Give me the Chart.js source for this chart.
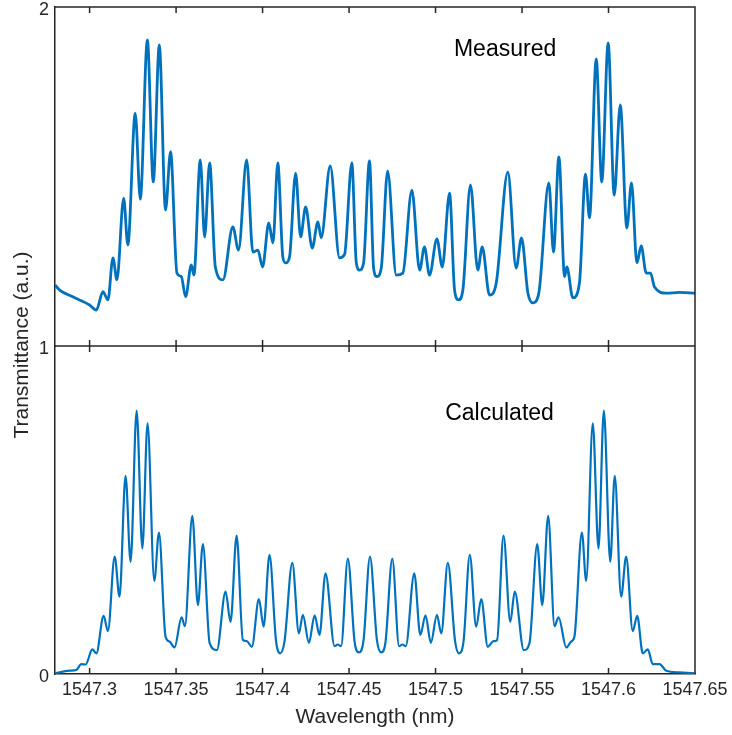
<!DOCTYPE html>
<html>
<head>
<meta charset="utf-8">
<title>Transmittance spectrum</title>
<script src="https://cdn.jsdelivr.net/npm/chart.js@4.4.1/dist/chart.umd.min.js"></script>
<style>
  body { margin: 0; background: #fff; }
  canvas { display: block; }
</style>
</head>
<body>
<canvas id="myChart" width="732" height="735"></canvas>
<script>
"use strict";

/* measured spectrum */
const measuredWl = [1547.2800, 1547.2827, 1547.2903, 1547.3000, 1547.3039, 1547.3077, 1547.3106, 1547.3135, 1547.3158, 1547.3197,
    1547.3221, 1547.3264, 1547.3293, 1547.3334, 1547.3368, 1547.3403, 1547.3439, 1547.3468, 1547.3505, 1547.3530,
    1547.3555, 1547.3588, 1547.3603, 1547.3640, 1547.3665, 1547.3694, 1547.3727, 1547.3771, 1547.3828, 1547.3861,
    1547.3908, 1547.3944, 1547.3973, 1547.4000, 1547.4036, 1547.4060, 1547.4088, 1547.4117, 1547.4133, 1547.4156,
    1547.4191, 1547.4220, 1547.4249, 1547.4287, 1547.4320, 1547.4339, 1547.4391, 1547.4445, 1547.4474, 1547.4516,
    1547.4542, 1547.4561, 1547.4584, 1547.4618, 1547.4642, 1547.4661, 1547.4686, 1547.4723, 1547.4773, 1547.4811,
    1547.4863, 1547.4908, 1547.4936, 1547.4965, 1547.5008, 1547.5039, 1547.5081, 1547.5110, 1547.5133, 1547.5158,
    1547.5202, 1547.5244, 1547.5270, 1547.5312, 1547.5351, 1547.5418, 1547.5466, 1547.5497, 1547.5534, 1547.5562,
    1547.5597, 1547.5655, 1547.5682, 1547.5713, 1547.5746, 1547.5759, 1547.5794, 1547.5832, 1547.5867, 1547.5890,
    1547.5929, 1547.5961, 1547.5998, 1547.6033, 1547.6068, 1547.6106, 1547.6133, 1547.6164, 1547.6189, 1547.6218,
    1547.6243, 1547.6266, 1547.6334, 1547.6410, 1547.6500];
const measuredT = [1.180, 1.165, 1.145, 1.121, 1.106, 1.160, 1.136, 1.260, 1.195, 1.436,
    1.298, 1.687, 1.433, 1.903, 1.484, 1.888, 1.401, 1.573, 1.215, 1.205,
    1.145, 1.239, 1.209, 1.549, 1.322, 1.540, 1.233, 1.195, 1.351, 1.283,
    1.549, 1.277, 1.283, 1.233, 1.363, 1.304, 1.540, 1.263, 1.245, 1.263,
    1.510, 1.322, 1.410, 1.289, 1.366, 1.319, 1.531, 1.260, 1.270, 1.540,
    1.245, 1.224, 1.245, 1.546, 1.229, 1.205, 1.229, 1.516, 1.209, 1.215,
    1.460, 1.224, 1.292, 1.209, 1.316, 1.233, 1.451, 1.165, 1.136, 1.165,
    1.475, 1.224, 1.292, 1.150, 1.186, 1.513, 1.230, 1.319, 1.156, 1.127,
    1.156, 1.481, 1.277, 1.558, 1.205, 1.233, 1.142, 1.186, 1.507, 1.378,
    1.847, 1.484, 1.894, 1.445, 1.711, 1.348, 1.481, 1.245, 1.295, 1.215,
    1.215, 1.174, 1.156, 1.158, 1.156];

/* calculated spectrum */
const calcWl = [1547.2800, 1547.2884, 1547.2923, 1547.2952, 1547.2977, 1547.3016, 1547.3039, 1547.3081, 1547.3106, 1547.3145,
    1547.3173, 1547.3208, 1547.3237, 1547.3272, 1547.3305, 1547.3335, 1547.3374, 1547.3401, 1547.3439, 1547.3462,
    1547.3491, 1547.3532, 1547.3551, 1547.3594, 1547.3626, 1547.3655, 1547.3694, 1547.3736, 1547.3786, 1547.3815,
    1547.3850, 1547.3886, 1547.3909, 1547.3938, 1547.3979, 1547.4006, 1547.4040, 1547.4078, 1547.4102, 1547.4127,
    1547.4172, 1547.4210, 1547.4233, 1547.4268, 1547.4301, 1547.4329, 1547.4364, 1547.4416, 1547.4435, 1547.4454,
    1547.4493, 1547.4532, 1547.4557, 1547.4584, 1547.4621, 1547.4661, 1547.4686, 1547.4711, 1547.4750, 1547.4789,
    1547.4809, 1547.4828, 1547.4877, 1547.4912, 1547.4942, 1547.4973, 1547.5008, 1547.5033, 1547.5071, 1547.5113,
    1547.5135, 1547.5162, 1547.5198, 1547.5235, 1547.5264, 1547.5302, 1547.5335, 1547.5356, 1547.5393, 1547.5432,
    1547.5458, 1547.5510, 1547.5543, 1547.5588, 1547.5617, 1547.5651, 1547.5688, 1547.5711, 1547.5756, 1547.5784,
    1547.5803, 1547.5846, 1547.5871, 1547.5909, 1547.5942, 1547.5973, 1547.6010, 1547.6036, 1547.6073, 1547.6102,
    1547.6140, 1547.6166, 1547.6198, 1547.6227, 1547.6256, 1547.6295, 1547.6334, 1547.6410, 1547.6500];
const calcT = [0.002, 0.010, 0.012, 0.030, 0.029, 0.075, 0.063, 0.177, 0.131, 0.358,
    0.236, 0.604, 0.342, 0.803, 0.383, 0.764, 0.284, 0.431, 0.114, 0.099,
    0.081, 0.173, 0.146, 0.482, 0.210, 0.396, 0.094, 0.073, 0.251, 0.159,
    0.422, 0.104, 0.100, 0.083, 0.228, 0.144, 0.363, 0.100, 0.063, 0.100,
    0.339, 0.124, 0.180, 0.095, 0.179, 0.119, 0.307, 0.085, 0.090, 0.085,
    0.352, 0.099, 0.066, 0.104, 0.358, 0.104, 0.066, 0.099, 0.352, 0.085,
    0.090, 0.085, 0.307, 0.119, 0.179, 0.095, 0.180, 0.124, 0.339, 0.100,
    0.063, 0.100, 0.363, 0.144, 0.228, 0.083, 0.100, 0.104, 0.422, 0.159,
    0.251, 0.073, 0.094, 0.396, 0.210, 0.482, 0.146, 0.173, 0.081, 0.099,
    0.114, 0.431, 0.284, 0.764, 0.383, 0.803, 0.342, 0.604, 0.236, 0.358,
    0.131, 0.177, 0.063, 0.075, 0.030, 0.030, 0.010, 0.005, 0.002];

/* axes */
const xTickValues = [1547.3, 1547.35, 1547.4, 1547.45, 1547.5, 1547.55, 1547.6, 1547.65];
const xTickLabels = ['1547.3', '1547.35', '1547.4', '1547.45', '1547.5', '1547.55', '1547.6', '1547.65'];
const topTickValues = [1, 2];
const bottomTickValues = [0];
const panelLabels = ['Measured', 'Calculated'];

const lineColor = '#0072BD';
const axisColor = '#262626';
const fontFamily = "'Liberation Sans', Arial, sans-serif";

/* rammen, inåtriktade streck och paneltexterna */
const framePlugin = {
    id: 'frame',
    afterDraw(chart) {
        const ctx = chart.ctx;
        const a = chart.chartArea;
        const x = chart.scales.x;
        const mid = chart.scales.yTop.getPixelForValue(1);
        ctx.save();
        ctx.strokeStyle = axisColor;
        ctx.lineWidth = 1.5;
        ctx.beginPath();
        ctx.moveTo(a.left, a.top);
        ctx.lineTo(a.right, a.top);
        ctx.lineTo(a.right, a.bottom);
        ctx.moveTo(a.left, mid);
        ctx.lineTo(a.right, mid);
        xTickValues.forEach(v => {
            const px = x.getPixelForValue(v);
            ctx.moveTo(px, a.top);
            ctx.lineTo(px, a.top + 6);
            ctx.moveTo(px, mid - 6);
            ctx.lineTo(px, mid + 6);
            ctx.moveTo(px, a.bottom);
            ctx.lineTo(px, a.bottom - 6);
        });
        ctx.stroke();

        ctx.fillStyle = '#000';
        ctx.font = '23px ' + fontFamily;
        ctx.textAlign = 'center';
        ctx.textBaseline = 'middle';
        ctx.fillText(panelLabels[0], x.getPixelForValue(1547.5402), chart.scales.yTop.getPixelForValue(1.873));
        ctx.fillText(panelLabels[1], x.getPixelForValue(1547.537), chart.scales.yBot.getPixelForValue(0.794));

        /* y-axelns titel över båda panelerna */
        ctx.fillStyle = axisColor;
        ctx.font = '21px ' + fontFamily;
        ctx.translate(22, mid - 1);
        ctx.rotate(-Math.PI / 2);
        ctx.fillText('Transmittance (a.u.)', 0, 0);
        ctx.restore();
    }
};

/* inga extra marginaler för etiketter vid kanterna */
function noEdgePadding(scale) {
    scale.paddingTop = 0;
    scale.paddingBottom = 0;
    scale.paddingLeft = 0;
    scale.paddingRight = 0;
}

const ctx = document.getElementById('myChart');

new Chart(ctx, {
    type: 'line',
    data: {
        datasets: [{
            label: 'Measured',
            data: measuredWl.map((w, i) => ({ x: w, y: measuredT[i] })),
            yAxisID: 'yTop',
            borderColor: lineColor,
            borderWidth: 2.8,
            pointRadius: 0,
            cubicInterpolationMode: 'monotone'
        }, {
            label: 'Calculated',
            data: calcWl.map((w, i) => ({ x: w, y: calcT[i] })),
            yAxisID: 'yBot',
            borderColor: lineColor,
            borderWidth: 2.2,
            pointRadius: 0,
            cubicInterpolationMode: 'monotone'
        }]
    },
    options: {
        responsive: false,
        animation: false,
        layout: { padding: { top: 7, right: 37, left: 0, bottom: 0 } },
        plugins: {
            legend: { display: false },
            tooltip: { enabled: false }
        },
        scales: {
            x: {
                type: 'linear',
                min: 1547.28,
                max: 1547.65,
                afterBuildTicks: scale => { scale.ticks = xTickValues.map(v => ({ value: v })); },
                afterFit: scale => { scale.height = 61; noEdgePadding(scale); },
                grid: { display: false, drawTicks: false },
                border: { display: true, color: axisColor, width: 1.5 },
                ticks: {
                    padding: 5,
                    maxRotation: 0,
                    color: axisColor,
                    font: { family: fontFamily, size: 18 },
                    callback: (value, index) => xTickLabels[index]
                },
                title: {
                    display: true,
                    text: 'Wavelength (nm)',
                    color: axisColor,
                    font: { family: fontFamily, size: 21 },
                    padding: { top: 0, bottom: 5 }
                }
            },
            /* nedre panelen definieras först, Chart.js lägger den sist definierade överst */
            yBot: {
                type: 'linear',
                position: 'left',
                stack: 'panels',
                stackWeight: 328,
                min: 0,
                max: 1,
                afterBuildTicks: scale => { scale.ticks = bottomTickValues.map(v => ({ value: v })); },
                afterFit: scale => { scale.width = 55; noEdgePadding(scale); },
                grid: { display: false, drawTicks: false },
                border: { display: true, color: axisColor, width: 1.5 },
                ticks: {
                    padding: 6,
                    labelOffset: 3,
                    color: axisColor,
                    font: { family: fontFamily, size: 18 },
                    callback: value => String(value)
                }
            },
            yTop: {
                type: 'linear',
                position: 'left',
                stack: 'panels',
                stackWeight: 339,
                min: 1,
                max: 2,
                afterBuildTicks: scale => { scale.ticks = topTickValues.map(v => ({ value: v })); },
                afterFit: scale => { scale.width = 55; noEdgePadding(scale); },
                grid: { display: false, drawTicks: false },
                border: { display: true, color: axisColor, width: 1.5 },
                ticks: {
                    padding: 6,
                    labelOffset: 3,
                    color: axisColor,
                    font: { family: fontFamily, size: 18 },
                    callback: value => String(value)
                }
            }
        }
    },
    plugins: [framePlugin]
});
</script>
</body>
</html>
